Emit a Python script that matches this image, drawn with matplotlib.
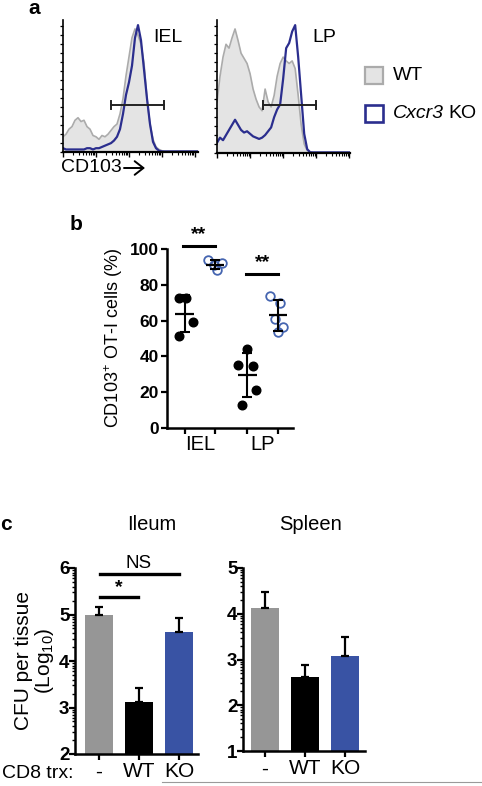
import numpy as np
import matplotlib
matplotlib.use("Agg")
import matplotlib.pyplot as plt
from matplotlib.patches import Rectangle, FancyArrowPatch
from matplotlib.lines import Line2D

plt.rcParams['font.family'] = ['Liberation Sans', 'DejaVu Sans']
plt.rcParams['mathtext.fontset'] = 'custom'
plt.rcParams['mathtext.rm'] = 'Liberation Sans'
plt.rcParams['mathtext.it'] = 'Liberation Sans:italic'

W, H = 482, 786

# ---- panel a: CD103 histograms (fraction of peak, one value per bin) ----
iel_wt = [0.12, 0.14, 0.18, 0.20, 0.25, 0.27, 0.24, 0.25, 0.20, 0.18, 0.13, 0.12,
          0.10, 0.13, 0.12, 0.14, 0.17, 0.20, 0.22, 0.30, 0.42, 0.60, 0.75, 0.90,
          0.97, 0.92, 0.85, 0.70, 0.42, 0.22, 0.10, 0.04, 0.02, 0.01, 0.0, 0.0,
          0.0, 0.0, 0.0, 0.0, 0.0, 0.0, 0.0, 0.0, 0.0, 0.0]
iel_ko = [0.03, 0.02, 0.02, 0.02, 0.02, 0.02, 0.02, 0.02, 0.03, 0.03, 0.02, 0.03,
          0.03, 0.04, 0.05, 0.06, 0.07, 0.09, 0.12, 0.18, 0.30, 0.45, 0.55, 0.68,
          0.90, 1.00, 0.88, 0.65, 0.42, 0.22, 0.08, 0.03, 0.01, 0.005, 0.005, 0.005,
          0.005, 0.005, 0.005, 0.005, 0.005, 0.005, 0.005, 0.005, 0.005, 0.005]
lp_wt = [0.40, 0.60, 0.75, 0.85, 0.82, 0.90, 0.97, 0.88, 0.78, 0.74, 0.70, 0.62,
         0.50, 0.42, 0.36, 0.33, 0.50, 0.40, 0.36, 0.45, 0.60, 0.70, 0.75, 0.72,
         0.70, 0.72, 0.66, 0.45, 0.22, 0.07, 0.02, 0.01, 0.0, 0.0, 0.0, 0.0,
         0.0, 0.0, 0.0, 0.0, 0.0, 0.0, 0.0, 0.0, 0.0]
lp_ko = [0.08, 0.12, 0.10, 0.14, 0.18, 0.22, 0.26, 0.22, 0.18, 0.16, 0.17, 0.15,
         0.13, 0.12, 0.11, 0.12, 0.14, 0.17, 0.20, 0.28, 0.34, 0.38, 0.58, 0.82,
         0.86, 0.95, 1.00, 0.75, 0.45, 0.15, 0.03, 0.005, 0.005, 0.005, 0.005, 0.005,
         0.005, 0.005, 0.005, 0.005, 0.005, 0.005, 0.005, 0.005, 0.005]
iel_gate = (48, 101, 0.37)
lp_gate = (46, 99, 0.377)

# ---- panel b: % CD103+ OT-I cells ----
b_groups = ['IEL', 'LP']
iel_wt_pts = [72.5, 72.5, 59.4, 51.4]
iel_ko_pts = [94, 92, 91, 88]
lp_wt_pts = [44.3, 35.4, 34.4, 21.4, 13.0]
lp_ko_pts = [73.7, 69.6, 60.7, 56.6, 53.8]

# ---- panel c: CFU per tissue (log10) ----
c_labels = ['-', 'WT', 'KO']
ileum_mean = [4.98, 3.12, 4.63]
ileum_sem = [0.19, 0.30, 0.29]
spleen_mean = [4.13, 2.62, 3.08]
spleen_sem = [0.35, 0.27, 0.41]

GRAY_FILL = '#e4e4e4'
GRAY_LINE = '#ababab'
NAVY = '#2b2e8e'
BAR_COLORS = ['#969696', '#000000', '#3953a4']
OPEN_BLUE = '#4565b0'


def box(l, t, r, b):
    return [l / W, 1 - b / H, (r - l) / W, (b - t) / H]


def ftext(x, y, s, **kw):
    fig.text(x / W, 1 - y / H, s, **kw)


fig = plt.figure(figsize=(W / 100, H / 100), dpi=100)


def draw_hist(ax, wt, ko, gate, xmax):
    x = np.arange(len(wt)) * 3.0
    ax.fill_between(x, wt, color=GRAY_FILL, lw=0)
    ax.plot(x, wt, color=GRAY_LINE, lw=1.2)
    ax.plot(x, ko, color=NAVY, lw=1.6)
    g0, g1, gy = gate
    ax.plot([g0, g1], [gy, gy], color='#222222', lw=1.4)
    ax.plot([g0, g0], [gy - 0.03, gy + 0.03], color='#222222', lw=1.4)
    ax.plot([g1, g1], [gy - 0.03, gy + 0.03], color='#222222', lw=1.4)
    ax.set_xlim(0, xmax)
    ax.set_ylim(0, 1.04)
    for s in ['top', 'right']:
        ax.spines[s].set_visible(False)
    ax.spines['left'].set_linewidth(1.2)
    ax.spines['bottom'].set_linewidth(1.6)
    ax.set_yticks(np.arange(0, 1.0, 0.071))
    ax.tick_params(axis='y', length=2.2, width=0.9, labelleft=False)
    dec = np.arange(0, xmax + 1, 33.0)
    ax.set_xticks(dec)
    minor = [d + 33 * np.log10(k) for d in dec for k in range(2, 10) if d + 33 * np.log10(k) < xmax]
    ax.set_xticks(minor, minor=True)
    ax.tick_params(axis='x', which='major', length=3.5, width=1.0, labelbottom=False)
    ax.tick_params(axis='x', which='minor', length=2.0, width=0.8)


ax_a1 = fig.add_axes(box(63, 20, 198, 152))
draw_hist(ax_a1, iel_wt, iel_ko, iel_gate, 135)
ax_a2 = fig.add_axes(box(217, 20, 350, 153))
draw_hist(ax_a2, lp_wt, lp_ko, lp_gate, 132.7)

ftext(153, 38, 'IEL', fontsize=14, va='center', ha='left')
ftext(312, 38, 'LP', fontsize=14, va='center', ha='left')
ftext(61, 168, 'CD103', fontsize=14, va='center', ha='left')
fig.add_artist(FancyArrowPatch((124 / W, 1 - 168 / H), (145 / W, 1 - 168 / H),
                               transform=fig.transFigure, arrowstyle='->,head_length=0.45,head_width=0.35',
                               color='black', lw=1.4, mutation_scale=14, shrinkA=0, shrinkB=0))
ftext(28, 8, 'a', fontsize=15, fontweight='bold', va='center', ha='left')

# legend
fig.patches.append(Rectangle((365 / W, 1 - 84 / H), 18 / W, 17 / H, transform=fig.transFigure,
                             facecolor=GRAY_FILL, edgecolor=GRAY_LINE, lw=1.6))
fig.patches.append(Rectangle((365 / W, 1 - 122 / H), 18 / W, 17 / H, transform=fig.transFigure,
                             facecolor='white', edgecolor=NAVY, lw=1.9))
ftext(393, 76, 'WT', fontsize=14, va='center', ha='left')
ftext(393, 114, 'Cxcr3', fontsize=14, style='italic', va='center', ha='left')
ftext(448, 114, 'KO', fontsize=14, va='center', ha='left')

# ---- panel b ----
ax_b = fig.add_axes(box(167, 249, 293, 428))
b_pos = [0.05, 0.95, 1.9, 2.8]
b_sets = [iel_wt_pts, iel_ko_pts, lp_wt_pts, lp_ko_pts]
b_jit = [[-0.17, 0.03, 0.24, -0.17], [-0.2, 0.2, -0.05, 0.05],
         [-0.02, -0.27, 0.16, 0.24, -0.16], [-0.25, 0.05, -0.1, 0.15, 0.0]]
for i, (p, vals, jit) in enumerate(zip(b_pos, b_sets, b_jit)):
    xs = p + np.array(jit)
    if i % 2 == 0:
        ax_b.plot(xs, vals, 'o', color='black', ms=6.2, clip_on=False, zorder=3)
    else:
        ax_b.plot(xs, vals, 'o', mfc='none', mec=OPEN_BLUE, mew=1.3, ms=6.2, clip_on=False, zorder=3)
    m, sd = np.mean(vals), np.std(vals, ddof=1)
    ax_b.errorbar([p], [m], yerr=[sd], fmt='none', ecolor='black', elinewidth=1.5,
                  capsize=3.6, capthick=1.5, zorder=4, clip_on=False)
    ax_b.hlines(m, p - 0.27, p + 0.27, color='black', lw=1.6, zorder=4)

ax_b.plot([0.0, 0.95], [101.8, 101.8], color='black', lw=2.2, clip_on=False)
ax_b.text(0.47, 103.5, '**', fontsize=14, fontweight='bold', ha='center', va='bottom')
ax_b.plot([1.85, 2.8], [85.9, 85.9], color='black', lw=2.2, clip_on=False)
ax_b.text(2.33, 87.6, '**', fontsize=14, fontweight='bold', ha='center', va='bottom')

ax_b.set_xlim(-0.47, 3.24)
ax_b.set_ylim(0, 100)
ax_b.set_yticks([0, 20, 40, 60, 80, 100])
ax_b.set_yticklabels(['0', '20', '40', '60', '80', '100'], fontsize=12.5, fontweight='bold')
ax_b.set_xticks(b_pos)
ax_b.set_xticklabels([])
ax_b.tick_params(length=4, width=1.6, pad=2)
for s in ['top', 'right']:
    ax_b.spines[s].set_visible(False)
for s in ['left', 'bottom']:
    ax_b.spines[s].set_linewidth(1.8)
for gi, g in enumerate(b_groups):
    ax_b.text((b_pos[2 * gi] + b_pos[2 * gi + 1]) / 2, -9, g, fontsize=14.5,
              ha='center', va='center', transform=ax_b.transData)
ax_b.set_ylabel('CD103$^{+}$ OT-I cells (%)', fontsize=13, labelpad=3)
ftext(70, 224, 'b', fontsize=15, fontweight='bold', va='center', ha='left')


# ---- panel c ----
def draw_bars(ax, means, sems, ymin, ymax):
    x = np.arange(len(means))
    ax.bar(x, means, width=0.72, color=BAR_COLORS, zorder=2)
    ax.errorbar(x, means, yerr=[np.zeros(len(sems)), sems], fmt='none', ecolor='black',
                elinewidth=1.6, capsize=3.2, capthick=1.6, zorder=3)
    ax.set_ylim(ymin, ymax)
    ax.set_yticks(range(ymin, ymax + 1))
    ax.set_yticklabels([str(v) for v in range(ymin, ymax + 1)], fontsize=13.5, fontweight='bold')
    minor = [d + np.log10(k) for d in range(ymin, ymax) for k in range(2, 10)]
    ax.set_yticks(minor, minor=True)
    ax.set_xticks(x)
    ax.set_xticklabels(c_labels, fontsize=15)
    ax.tick_params(axis='y', which='major', length=4, width=1.6, pad=0)
    ax.tick_params(axis='y', which='minor', length=2.5, width=1.0)
    ax.tick_params(axis='x', length=4, width=1.6, pad=2)
    for s in ['top', 'right']:
        ax.spines[s].set_visible(False)
    for s in ['left', 'bottom']:
        ax.spines[s].set_linewidth(1.8)


ax_c1 = fig.add_axes(box(75, 568, 198, 754))
draw_bars(ax_c1, ileum_mean, ileum_sem, 2, 6)
ax_c1.set_xlim(-0.6, 2.475)
ax_c1.plot([0.02, 2.0], [5.87, 5.87], color='black', lw=2.4, clip_on=False)
ax_c1.text(1.0, 5.92, 'NS', fontsize=13.5, ha='center', va='bottom')
ax_c1.plot([0.02, 0.98], [5.37, 5.37], color='black', lw=2.4, clip_on=False)
ax_c1.text(0.5, 5.4, '*', fontsize=14, fontweight='bold', ha='center', va='bottom')
ax_c1.set_ylabel('CFU per tissue\n(Log$_{10}$)', fontsize=15, labelpad=2, linespacing=1.0)

ax_c2 = fig.add_axes(box(243, 568, 365, 751))
draw_bars(ax_c2, spleen_mean, spleen_sem, 1, 5)
ax_c2.set_xlim(-0.55, 2.5)

ftext(152, 525, 'Ileum', fontsize=14.5, ha='center', va='center')
ftext(311, 525, 'Spleen', fontsize=14.5, ha='center', va='center')
ftext(2, 773, 'CD8 trx:', fontsize=14, ha='left', va='center')
ftext(0, 525, 'c', fontsize=15, fontweight='bold', va='center', ha='left')

fig.add_artist(Line2D([162 / W, 1.0], [1 - 782 / H, 1 - 782 / H], transform=fig.transFigure,
                      color='#9a9a9a', lw=0.8))

fig.savefig('out.png', dpi=100)
